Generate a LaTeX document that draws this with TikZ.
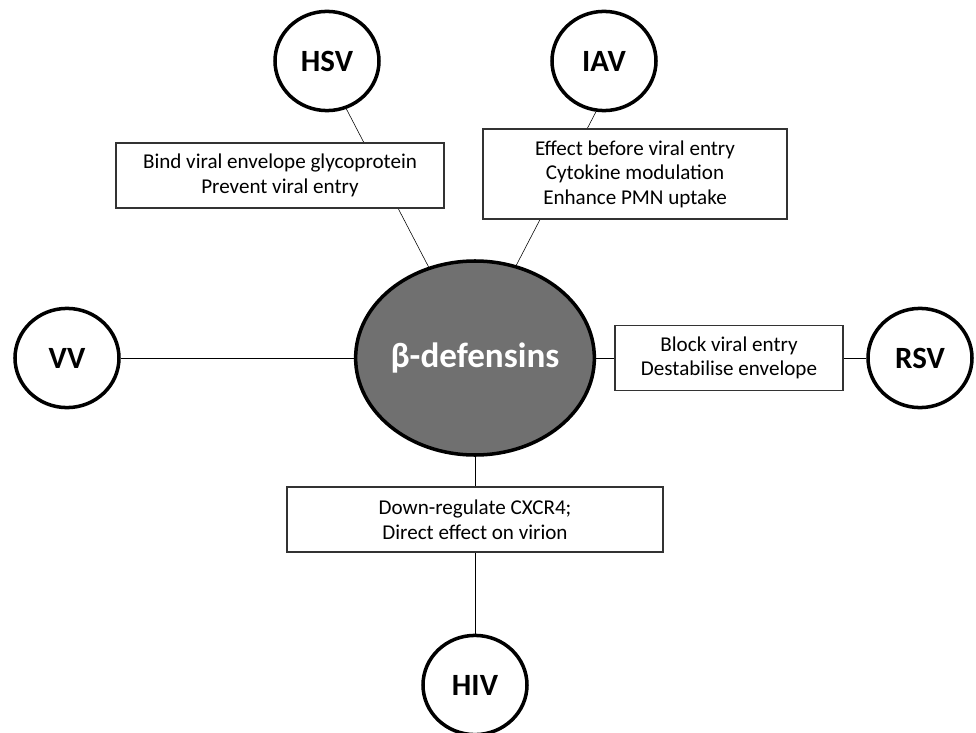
\documentclass[tikz,border=0pt]{standalone}
\usepackage{fontspec}
\setmainfont{Carlito}
\usetikzlibrary{positioning,shapes.geometric,backgrounds}
\definecolor{betagray}{RGB}{112,112,112}

\begin{document}
\begin{tikzpicture}[on grid, line width=1.7pt,
                    main node/.style={ellipse,draw,line width=2.5pt,minimum width=2.6cm,minimum height=2.48cm,inner sep=0pt,font=\fontsize{22}{26}\selectfont\bfseries},
                    text node/.style={rectangle,draw=black!80,line width=1.4pt,fill=white,align=center,inner sep=0pt,font=\fontsize{15}{17.5}\selectfont}]

	\useasboundingbox (-11.875,-9.35) rectangle (12.525,8.95);

	\node[main node,fill=betagray,text=white,minimum width=5.2cm,minimum height=4.85cm,font=\fontsize{25}{29}\selectfont\bfseries] (1) at (0,0) {β-defensins};

	\node[main node] (2) [above left=7.425cm and 3.7cm of 1] {HSV};
	\node[main node] (3) [above right=7.425cm and 3.225cm of 1] {IAV};
	\node[main node] (4) [left=10.2cm of 1] {VV};
	\node[main node] (5) [right=11.125cm of 1] {RSV};
	\node[main node] (6) [below=8.175cm of 1] {HIV};

	\node[text node,minimum width=8.2cm,minimum height=1.625cm] (7) [above left=4.5625cm and 4.875cm of 1] {Bind viral envelope glycoprotein\\Prevent viral entry};
	\node[text node,minimum width=7.6cm,minimum height=2.25cm] (8) [above right=4.6cm and 4cm of 1] {Effect before viral entry\\Cytokine modulation\\Enhance PMN uptake};
	\node[text node,minimum width=5.7cm,minimum height=1.625cm] (9) [right=6.35cm of 1] {Block viral entry\\Destabilise envelope};
	\node[text node,minimum width=9.4cm,minimum height=1.625cm] (10) [below=4.0375cm of 1] {Down-regulate CXCR4;\\Direct effect on virion};

  \begin{scope}[on background layer]
  \path
    (1.117) edge (2.292)
    (1.66) edge (3.261)
    (1) edge (4)
        edge (5)
        edge (6)
    ;
  \end{scope}

\end{tikzpicture}
\end{document}
